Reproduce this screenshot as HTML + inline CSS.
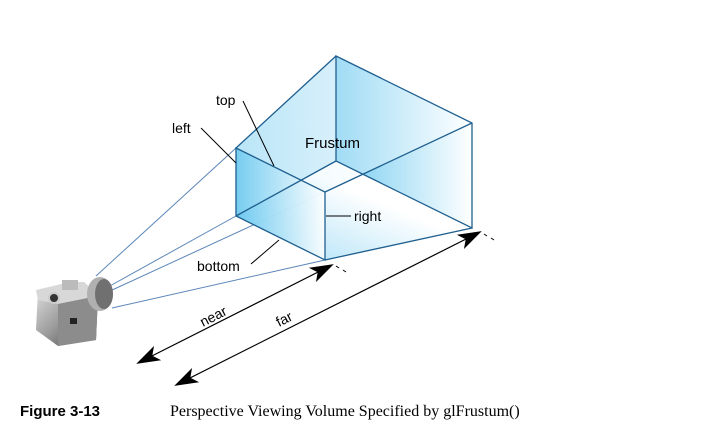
<!DOCTYPE html>
<html><head><meta charset="utf-8"><style>
html,body{margin:0;padding:0;background:#fff;}
svg{display:block;}
text{font-family:"Liberation Sans",sans-serif;}
</style></head><body>
<svg width="709" height="439" viewBox="0 0 709 439">
<defs>
<linearGradient id="gBlue" x1="0" y1="0" x2="1" y2="0">
<stop offset="0" stop-color="#5ec4ee"/><stop offset="1" stop-color="#ffffff"/></linearGradient>
<linearGradient id="gBlue2" x1="0" y1="0" x2="1" y2="0">
<stop offset="0" stop-color="#8bd4f3"/><stop offset="1" stop-color="#ffffff"/></linearGradient>
<linearGradient id="gBot" x1="0" y1="1" x2="1" y2="0">
<stop offset="0" stop-color="#8bd4f3"/><stop offset="0.6" stop-color="#ffffff"/></linearGradient>
<linearGradient id="gCam" x1="0" y1="0" x2="1" y2="1">
<stop offset="0" stop-color="#e6e6e6"/><stop offset="0.5" stop-color="#9a9a9a"/><stop offset="1" stop-color="#3a3a3a"/></linearGradient>
<marker id="ah" viewBox="0 0 24 16" refX="22" refY="8" markerWidth="24" markerHeight="16" markerUnits="userSpaceOnUse" orient="auto-start-reverse">
<path d="M0,0 L24,8 L0,16 L6,8 Z" fill="#000"/></marker>
</defs>

<g stroke="#5b86b8" stroke-width="1">
<line x1="96" y1="276" x2="236" y2="148"/>
<line x1="108" y1="287" x2="236" y2="216"/>
<line x1="110" y1="291" x2="325" y2="192"/>
<line x1="112" y1="308" x2="325" y2="260"/>
</g>

<g>
<polygon points="336,56 472,123 472,228 336,161" fill="url(#gBlue)" opacity="0.85"/>
<polygon points="236,148 336,56 472,123 325,192" fill="url(#gBlue2)" opacity="0.6"/>
<polygon points="236,216 336,161 472,228 325,260" fill="url(#gBot)" opacity="0.8"/>
<polygon points="236,148 325,192 325,260 236,216" fill="url(#gBlue)" opacity="0.85"/>
<g stroke="#1f5f8f" stroke-width="1.3" fill="none">
<polygon points="236,148 325,192 325,260 236,216"/>
<polygon points="336,56 472,123 472,228 336,161"/>
<line x1="236" y1="148" x2="336" y2="56"/>
<line x1="325" y1="192" x2="472" y2="123"/>
<line x1="236" y1="216" x2="336" y2="161"/>
<line x1="325" y1="260" x2="472" y2="228"/>
</g>
</g>

<g stroke="#000" stroke-width="1">
<line x1="243" y1="101" x2="274" y2="166"/>
<line x1="201" y1="128" x2="236" y2="163"/>
<line x1="326" y1="216" x2="351" y2="216"/>
<line x1="251" y1="264" x2="279" y2="240"/>
</g>

<text x="216" y="105" font-size="14">top</text>
<text x="172" y="133" font-size="14">left</text>
<text x="305" y="148" font-size="15">Frustum</text>
<text x="354" y="221" font-size="14">right</text>
<text x="197" y="271" font-size="14">bottom</text>

<line x1="138" y1="363" x2="332" y2="265" stroke="#000" stroke-width="1.2" marker-start="url(#ah)" marker-end="url(#ah)"/>
<line x1="176" y1="385" x2="480" y2="232" stroke="#000" stroke-width="1.2" marker-start="url(#ah)" marker-end="url(#ah)"/>
<g stroke="#000" stroke-width="1">
<line x1="336" y1="266" x2="339" y2="268"/><line x1="343" y1="270" x2="346" y2="272"/>
<line x1="484" y1="234" x2="487" y2="236"/><line x1="491" y1="238" x2="494" y2="240"/>
</g>
<text x="0" y="0" font-size="14" transform="translate(203,327) rotate(-27)">near</text>
<text x="0" y="0" font-size="14" transform="translate(279,327) rotate(-27)">far</text>

<g>
<polygon points="38,290 84,282 98,296 96,340 58,346 36,330" fill="url(#gCam)"/>
<polygon points="36,290 70,282 84,282 98,296 58,304 38,300" fill="#d8d8d8"/>
<polygon points="58,304 98,296 96,340 58,346" fill="#8c8c8c"/>
<rect x="70" y="318" width="7" height="6" fill="#222"/>
<circle cx="54" cy="298" r="5" fill="#333" stroke="#ccc" stroke-width="2"/>
<ellipse cx="100" cy="294" rx="13" ry="17" fill="#b0b0b0"/>
<ellipse cx="104" cy="294" rx="9" ry="15" fill="#707070"/>
<rect x="62" y="280" width="16" height="10" fill="#bbb"/>
</g>

<text x="20" y="416" font-size="15" font-weight="bold">Figure 3-13</text>
<text x="170" y="416" font-size="16" style="font-family:'Liberation Serif',serif">Perspective Viewing Volume Specified by glFrustum()</text>
</svg>
</body></html>
